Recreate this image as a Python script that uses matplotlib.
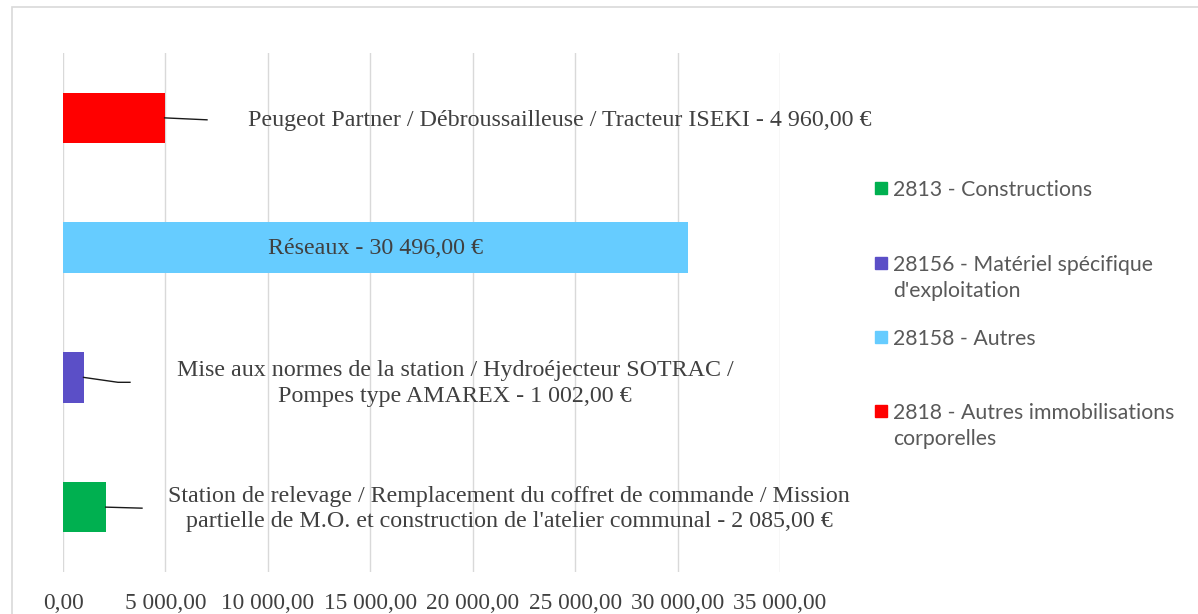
import matplotlib
matplotlib.use("Agg")
import matplotlib.pyplot as plt
from matplotlib.patches import Rectangle

# data, bottom to top
series = ["2813 - Constructions",
          "28156 - Matériel spécifique\nd'exploitation",
          "28158 - Autres",
          "2818 - Autres immobilisations\ncorporelles"]
values = [2085.00, 1002.00, 30496.00, 4960.00]
labels = ["Station de relevage / Remplacement du coffret de commande / Mission\npartielle de M.O. et construction de l'atelier communal - 2 085,00 €",
          "Mise aux normes de la station / Hydroéjecteur SOTRAC /\nPompes type AMAREX - 1 002,00 €",
          "Réseaux - 30 496,00 €",
          "Peugeot Partner / Débroussailleuse / Tracteur ISEKI - 4 960,00 €"]
colors = ["#00b050", "#5b4fc7", "#66ccff", "#ff0000"]
xticks = [0, 5000, 10000, 15000, 20000, 25000, 30000, 35000]

# label placement (data units)
label_x = [21771, 19135, 15248, 24260]
label_dy = [-0.015, -0.05, -0.01, -0.02]
leaders = [[(2085, 0), (3856, -0.008)],
           [(1002, 1), (2685, 0.962), (3270, 0.962)],
           None,
           [(4960, 3), (7029, 2.985)]]

W, H = 1198, 614
fig = plt.figure(figsize=(W / 100, H / 100), dpi=100)
ax = fig.add_axes([63 / W, 1 - 572 / H, (780 - 63) / W, (572 - 53) / H])

serif = "Liberation Serif"
txt_col = "#404040"

# chart border
fig.patches.append(Rectangle((12 / W, -0.5), 2, 1.5 - 7 / H, transform=fig.transFigure,
                             fill=False, edgecolor="#d9d9d9", lw=1.2))

for i, v in enumerate(values):
    ax.barh(i, v, height=0.39, color=colors[i], zorder=3)

for i, (lab, lx) in enumerate(zip(labels, label_x)):
    ax.text(lx, i + label_dy[i], lab, ha="center", va="center", fontsize=17.3,
            family=serif, color=txt_col, linespacing=1.3, zorder=4)
    if leaders[i]:
        xs = [p[0] for p in leaders[i]]
        ys = [p[1] for p in leaders[i]]
        ax.plot(xs, ys, color="#1a1a1a", lw=1.0, zorder=4)

ax.set_xlim(0, 35000)
ax.set_ylim(-0.5, 3.5)
ax.set_xticks(xticks)
ax.set_xticklabels(["{:,.2f}".format(t).replace(",", " ").replace(".", ",") for t in xticks],
                   family=serif, fontsize=16.8, color=txt_col)
ax.set_yticks([])
ax.tick_params(axis="x", length=0, pad=15)
ax.grid(axis="x", color="#d9d9d9", lw=1.0, zorder=0)
for s in ax.spines.values():
    s.set_visible(False)

# legend drawn by hand so that two-line entries keep the key on the first line
leg_y = [188, 263, 337, 411]   # centre of first text line, pixels from top
for i, yc in enumerate(leg_y):
    fig.patches.append(Rectangle((875 / W, 1 - (yc + 6) / H), 12 / W, 12 / H,
                                 transform=fig.transFigure, color=colors[i]))
    fig.text(893 / W, 1 - (yc - 8) / H, series[i], ha="left", va="top",
             family="Lato", fontsize=15.3, color="#595959", linespacing=1.4)

fig.savefig("out.png", dpi=100)
